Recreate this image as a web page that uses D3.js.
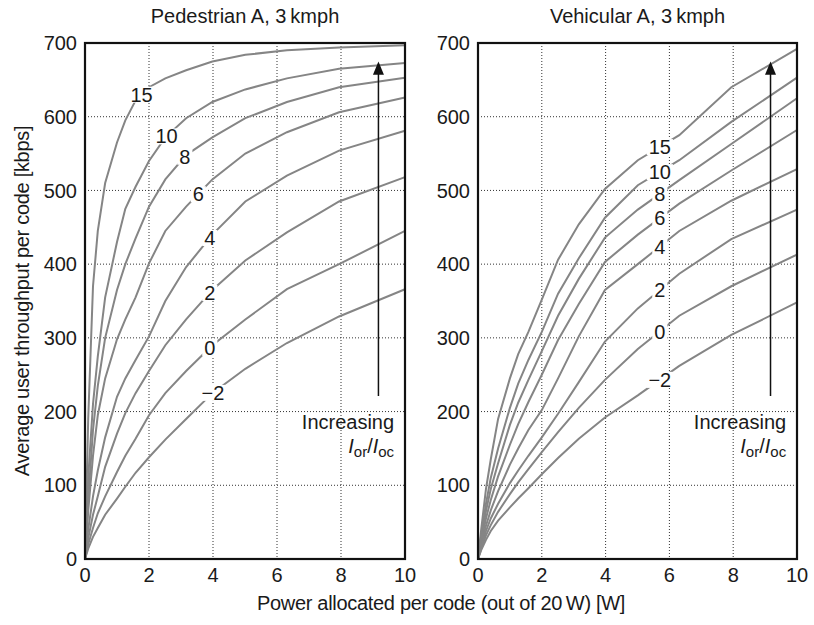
<!DOCTYPE html>
<html>
<head>
<meta charset="utf-8">
<script src="https://cdn.jsdelivr.net/npm/d3@7"></script>
<style>
  body { margin: 0; background: #fff; }
  text { font-family: "Liberation Sans", Arial, Helvetica, sans-serif; fill: #1a1a1a; }
</style>
</head>
<body>
<svg id="chart" width="814" height="625"></svg>
<script>
// data {{{ //

// power per code [W] at which each curve was sampled
const powerW = [0, 0.1, 0.25, 0.4, 0.63, 1, 1.26, 1.58, 2, 2.51, 3.16, 3.98, 5.01, 6.31, 7.94, 10];
const iorLabels = ["15", "10", "8", "6", "4", "2", "0", "\u22122"];

// Pedestrian A, 3 kmph : throughput [kbps]
const ped_15 = [0, 190, 370, 445, 510, 565, 595, 622, 640, 652, 663, 675, 684, 690, 694, 697];
const ped_10 = [0, 110, 210, 275, 355, 430, 475, 505, 540, 572, 598, 620, 637, 652, 665, 673];
const ped_8  = [0, 80, 175, 235, 300, 365, 400, 435, 478, 515, 548, 572, 598, 620, 640, 653];
const ped_6  = [0, 65, 140, 195, 245, 298, 325, 355, 401, 445, 478, 515, 550, 579, 606, 626];
const ped_4  = [0, 40, 85, 120, 165, 220, 245, 270, 302, 350, 396, 440, 485, 520, 554, 581];
const ped_2  = [0, 28, 60, 85, 125, 170, 198, 225, 255, 290, 325, 365, 405, 443, 485, 518];
const ped_0  = [0, 20, 42, 62, 85, 118, 140, 163, 195, 225, 255, 290, 325, 366, 400, 445];
const ped_m2 = [0, 14, 30, 42, 60, 82, 98, 117, 138, 162, 190, 225, 258, 293, 329, 366];

// Vehicular A, 3 kmph : throughput [kbps]
const veh_15 = [0, 40, 95, 135, 190, 245, 278, 308, 352, 406, 454, 502, 541, 575, 640, 692];
const veh_10 = [0, 32, 75, 110, 150, 205, 238, 270, 308, 360, 408, 463, 507, 541, 593, 653];
const veh_8  = [0, 28, 65, 95, 130, 182, 212, 243, 282, 330, 380, 436, 474, 514, 563, 625];
const veh_6  = [0, 24, 55, 80, 112, 155, 183, 213, 250, 297, 346, 403, 440, 482, 527, 582];
const veh_4  = [0, 20, 45, 66, 92, 128, 150, 175, 202, 245, 302, 365, 400, 445, 486, 529];
const veh_2  = [0, 17, 38, 55, 75, 103, 120, 140, 165, 197, 240, 295, 340, 387, 434, 474];
const veh_0  = [0, 14, 32, 46, 64, 88, 104, 122, 145, 172, 205, 243, 285, 330, 370, 413];
const veh_m2 = [0, 12, 26, 38, 52, 70, 82, 96, 115, 137, 163, 192, 222, 262, 304, 348];

// power at which the curve labels sit
const pedLabelAt = [1.77, 2.55, 3.12, 3.54, 3.9, 3.9, 3.9, 4.0];
const vehLabelAt = [5.7, 5.7, 5.7, 5.7, 5.7, 5.7, 5.7, 5.7];

const xTicks = [0, 2, 4, 6, 8, 10];
const yTicks = [0, 100, 200, 300, 400, 500, 600, 700];

// }}} data //

const svg = d3.select("#chart");
const top_ = 43, bottom = 559;
const y = d3.scaleLinear().domain([0, 700]).range([bottom, top_]);

function interp(xs, ys, x0) {
  for (let i = 1; i < xs.length; i++) {
    if (x0 <= xs[i]) {
      let t = (x0 - xs[i - 1]) / (xs[i] - xs[i - 1]);
      return ys[i - 1] + t * (ys[i] - ys[i - 1]);
    }
  }
  return ys[ys.length - 1];
}

function draw_panel(left, right, title, series, labelAt) {
  let x = d3.scaleLinear().domain([0, 10]).range([left, right]);
  let g = svg.append("g");

  // grid {{{ //
  g.selectAll(".gx").data(xTicks.slice(1, -1)).enter().append("line")
    .attr("x1", d => x(d)).attr("x2", d => x(d))
    .attr("y1", top_).attr("y2", bottom)
    .attr("stroke", "#333").attr("stroke-width", 1)
    .attr("stroke-dasharray", "1,2");
  g.selectAll(".gy").data(yTicks.slice(1, -1)).enter().append("line")
    .attr("x1", left).attr("x2", right)
    .attr("y1", d => y(d)).attr("y2", d => y(d))
    .attr("stroke", "#333").attr("stroke-width", 1)
    .attr("stroke-dasharray", "1,2");
  // }}} grid //

  // curves {{{ //
  let line = d3.line()
    .x((d, i) => x(powerW[i]))
    .y(d => y(d));
  series.forEach(function(s) {
    g.append("path")
      .datum(s)
      .attr("fill", "none")
      .attr("stroke", "#858585")
      .attr("stroke-width", 2)
      .attr("d", line);
  });
  // }}} curves //

  // curve labels {{{ //
  series.forEach(function(s, i) {
    let px = x(labelAt[i]), py = y(interp(powerW, s, labelAt[i]));
    let bg = g.append("rect").attr("fill", "#fff");
    let t = g.append("text")
      .attr("x", px).attr("y", py)
      .attr("dy", "0.36em")
      .attr("text-anchor", "middle")
      .style("font-size", "20px")
      .text(iorLabels[i]);
    let bb = t.node().getBBox();
    bg.attr("x", bb.x - 2).attr("y", bb.y + 3)
      .attr("width", bb.width + 4).attr("height", bb.height - 6);
  });
  // }}} curve labels //

  // arrow + note {{{ //
  let ax = x(9.17);
  g.append("line")
    .attr("x1", ax).attr("x2", ax)
    .attr("y1", y(221)).attr("y2", y(660))
    .attr("stroke", "#111").attr("stroke-width", 1.5);
  g.append("path")
    .attr("d", `M${ax},${y(675)} L${ax - 5.5},${y(657)} L${ax + 5.5},${y(657)} Z`)
    .attr("fill", "#111");
  g.append("text")
    .attr("x", x(9.66)).attr("y", y(176))
    .attr("text-anchor", "end")
    .style("font-size", "20px")
    .text("Increasing");
  let note = g.append("text")
    .attr("x", x(9.66)).attr("y", y(144))
    .attr("text-anchor", "end")
    .style("font-size", "20px");
  note.append("tspan").style("font-style", "italic").text("I");
  note.append("tspan").attr("dy", 4).style("font-size", "15px").text("or");
  note.append("tspan").attr("dy", -4).text("/");
  note.append("tspan").style("font-style", "italic").text("I");
  note.append("tspan").attr("dy", 4).style("font-size", "15px").text("oc");
  // }}} arrow + note //

  // frame {{{ //
  g.append("rect")
    .attr("x", left).attr("y", top_)
    .attr("width", right - left).attr("height", bottom - top_)
    .attr("fill", "none").attr("stroke", "#111").attr("stroke-width", 2.2);
  // }}} frame //

  // axes {{{ //
  g.selectAll(".xt").data(xTicks).enter().append("text")
    .attr("x", d => x(d)).attr("y", bottom + 23)
    .attr("text-anchor", "middle")
    .style("font-size", "20px")
    .text(d => d);
  g.selectAll(".yt").data(yTicks).enter().append("text")
    .attr("x", left - 8).attr("y", d => y(d))
    .attr("dy", "0.36em")
    .attr("text-anchor", "end")
    .style("font-size", "20px")
    .text(d => d);
  // }}} axes //

  // title
  g.append("text")
    .attr("x", (left + right) / 2).attr("y", 23)
    .attr("text-anchor", "middle")
    .style("font-size", "20px")
    .text(title);
}

draw_panel(85, 405, "Pedestrian A, 3\u2009kmph",
  [ped_15, ped_10, ped_8, ped_6, ped_4, ped_2, ped_0, ped_m2], pedLabelAt);
draw_panel(478, 797, "Vehicular A, 3\u2009kmph",
  [veh_15, veh_10, veh_8, veh_6, veh_4, veh_2, veh_0, veh_m2], vehLabelAt);

// axis titles {{{ //
svg.append("text")
  .attr("transform", "translate(29," + ((top_ + bottom) / 2) + ") rotate(-90)")
  .attr("text-anchor", "middle")
  .style("font-size", "20px")
  .style("letter-spacing", "-0.3px")
  .text("Average user throughput per code [kbps]");
svg.append("text")
  .attr("x", 441).attr("y", 610)
  .attr("text-anchor", "middle")
  .style("font-size", "20px")
  .style("letter-spacing", "-0.3px")
  .text("Power allocated per code (out of 20\u2009W) [W]");
// }}} axis titles //
</script>
</body>
</html>
